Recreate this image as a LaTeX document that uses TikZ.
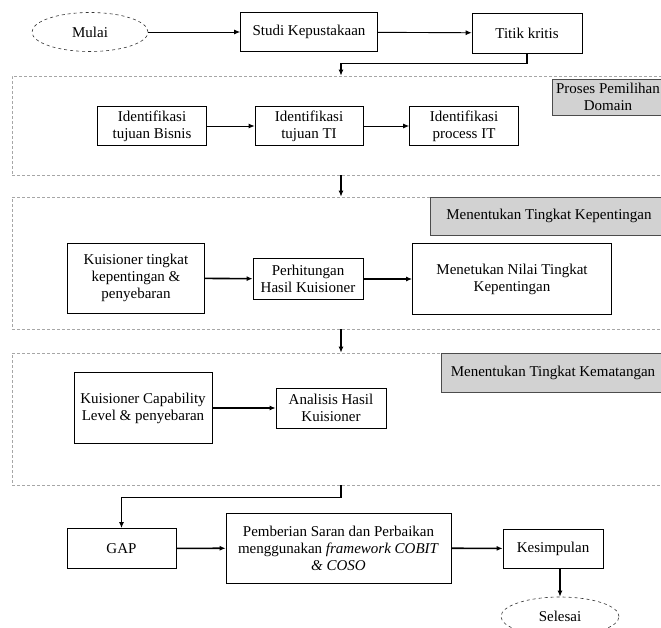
\documentclass[tikz,border=0pt]{standalone}
\usepackage{fontspec}
\setmainfont{Liberation Serif}
\usetikzlibrary{shapes,arrows.meta,positioning,calc}

\tikzset{
  txt/.style={font=\fontsize{15}{17}\selectfont, align=center, inner sep=1pt},
  box/.style={txt, draw, line width=0.7pt},
  term/.style={txt, ellipse, draw=black!80, dashed, line width=0.6pt},
  panel/.style={draw=gray!70, dash pattern=on 3pt off 2pt, line width=0.6pt},
  tag/.style={txt, draw=black!70, fill=gray!35, line width=0.6pt},
  link/.style={-{Latex[length=6pt,width=5pt]}, line width=0.9pt},
  boldlink/.style={link, line width=1.6pt}
}

\begin{document}
\begin{tikzpicture}[x=1pt, y=-1pt]

\useasboundingbox (0,0) rectangle (661,627);
\clip (0,0) rectangle (661,627);

% Start
\node[term, minimum width=116pt, minimum height=39pt] (mulai) at (90,32) {Mulai};
\node[box, minimum width=137pt, minimum height=39pt] (studi) at (309,32) {Studi Kepustakaan};
\node[box, minimum width=110pt, minimum height=40pt] (titik) at (527,33) {Titik kritis};

% Panel 1: pemilihan domain
\node[panel, minimum width=658pt, minimum height=99pt] (panel1) at (341,125.5) {};
\node[tag, minimum width=112pt, minimum height=36pt] (label1) at (608,97) {Proses Pemilihan\\Domain};
\node[box, minimum width=109pt, minimum height=39pt] (idbisnis) at (152,126) {Identifikasi\\tujuan Bisnis};
\node[box, minimum width=108pt, minimum height=39pt] (idti) at (309,126) {Identifikasi\\tujuan TI};
\node[box, minimum width=109pt, minimum height=39pt] (idproses) at (464,126) {Identifikasi\\process IT};

% Panel 2: tingkat kepentingan
\node[panel, minimum width=658pt, minimum height=132pt] (panel2) at (341,263) {};
\node[tag, minimum width=238pt, minimum height=38pt] (label2) at (549,216) {Menentukan Tingkat Kepentingan};
\node[box, minimum width=137pt, minimum height=70pt] (kuisA) at (136,278) {Kuisioner tingkat\\kepentingan \&\\penyebaran};
\node[box, minimum width=110pt, minimum height=41pt] (hitung) at (308,279) {Perhitungan\\Hasil Kuisioner};
\node[box, minimum width=199pt, minimum height=71pt] (nilai) at (512,279) {Menetukan Nilai Tingkat\\Kepentingan};

% Panel 3: tingkat kematangan
\node[panel, minimum width=658pt, minimum height=132pt] (panel3) at (341,419) {};
\node[tag, minimum width=224pt, minimum height=39pt] (label3) at (553,372.5) {Menentukan Tingkat Kematangan};
\node[box, minimum width=138pt, minimum height=71pt] (kuisB) at (143,408) {Kuisioner Capability\\Level \& penyebaran};
\node[box, minimum width=110pt, minimum height=40pt] (analisis) at (331,408) {Analisis Hasil\\Kuisioner};

% End
\node[box, minimum width=109pt, minimum height=40pt] (gap) at (121.5,548.5) {GAP};
\node[box, minimum width=225pt, minimum height=70pt] (saran) at (338.5,548) {Pemberian Saran dan Perbaikan\\menggunakan \textit{framework COBIT}\\\textit{\& COSO}};
\node[box, minimum width=100pt, minimum height=39pt] (simpulan) at (553,548.5) {Kesimpulan};
\node[term, minimum width=118pt, minimum height=39pt] (selesai) at (560,616.5) {Selesai};

% Connectors
\draw[link] (mulai) -- (studi);
\draw[link] (studi) -- (titik);
\draw[boldlink] (titik.south) -- ++(0,10) -| (panel1.north);
\draw[link] (idbisnis) -- (idti);
\draw[link] (idti) -- (idproses);
\draw[boldlink] (panel1.south) -- (panel2.north);
\draw[boldlink] (kuisA) -- (hitung);
\draw[boldlink] (hitung) -- (nilai);
\draw[boldlink] (panel2.south) -- (panel3.north);
\draw[boldlink] (kuisB) -- (analisis);
\draw[boldlink] (panel3.south) -- ++(0,12) -| (gap.north);
\draw[boldlink] (gap) -- (saran);
\draw[boldlink] (saran) -- (simpulan);
\draw[boldlink] (simpulan.south -| selesai.north) -- (selesai.north);

\end{tikzpicture}
\end{document}
